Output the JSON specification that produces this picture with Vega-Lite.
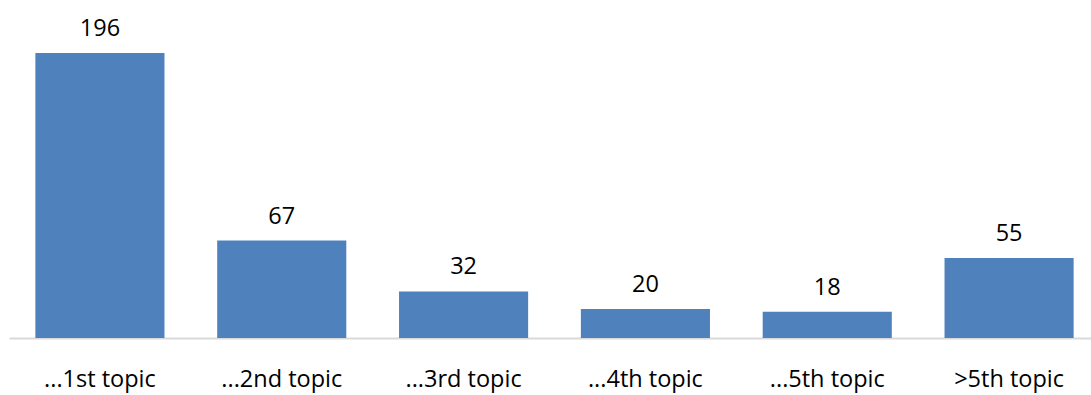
{
  "$schema": "https://vega.github.io/schema/vega-lite/v6.json",
  "autosize": {"type": "none"},
  "padding": {"left": 9, "top": 0, "right": 0, "bottom": 57},
  "width": 1091,
  "height": 338,
  "background": "white",
  "config": {"view": {"stroke": null}, "font": "Open Sans"},
  "data": {"values": [
    {"topic": "...1st topic", "count": 196},
    {"topic": "...2nd topic", "count": 67},
    {"topic": "...3rd topic", "count": 32},
    {"topic": "...4th topic", "count": 20},
    {"topic": "...5th topic", "count": 18},
    {"topic": ">5th topic", "count": 55}
  ]},
  "encoding": {
    "x": {"field": "topic", "type": "nominal", "sort": null,
      "scale": {"paddingInner": 0.29, "paddingOuter": 0.145},
      "axis": {"title": null, "labelAngle": 0, "ticks": false, "domainColor": "#D9D9D9", "domainWidth": 2,
        "labelFontSize": 23.5, "labelColor": "#000000", "labelPadding": 29, "labelFont": "Open Sans"}},
    "y": {"field": "count", "type": "quantitative",
      "scale": {"domain": [0, 232.4], "nice": false, "zero": true},
      "axis": null}
  },
  "layer": [
    {"mark": {"type": "bar", "color": "#4F81BD"}},
    {"mark": {"type": "text", "baseline": "alphabetic", "dy": -17, "fontSize": 23.5, "color": "#000000", "font": "Open Sans"},
      "encoding": {"text": {"field": "count", "type": "quantitative"}}}
  ]
}
